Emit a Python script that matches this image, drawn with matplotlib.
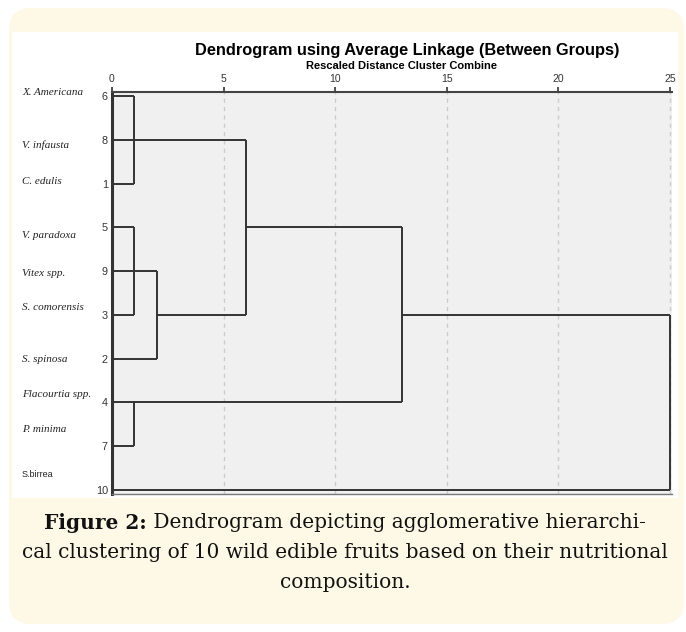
import math
import matplotlib
matplotlib.use('Agg')
from matplotlib import pyplot as plt
from matplotlib.patches import FancyBboxPatch, Rectangle

# cases in the order SPSS lists them
case_ids = [6, 8, 1, 5, 9, 3, 2, 4, 7, 10]
fruit_names = ['X. Americana', 'V. infausta', 'C. edulis', 'V. paradoxa', 'Vitex spp.',
               'S. comorensis', 'S. spinosa', 'Flacourtia spp.', 'P. minima', 'S.birrea']

# agglomeration steps: members (case ids or earlier cluster names) and rescaled distance
merge_names = ['A', 'B', 'C', 'D', 'E', 'F', 'G']
merge_members = [[6, 8, 1], [5, 9, 3], [4, 7], ['B', 2], ['A', 'D'], ['E', 'C'], ['F', 10]]
merge_dist = [1, 1, 1, 2, 6, 13, 25]

x_ticks = [0, 5, 10, 15, 20, 25]

# small nudges of the name labels (in rows), as the source image places them
label_shift = [-0.09, 0.11, -0.05, 0.18, 0.05, -0.16, 0.02, -0.18, -0.37, -0.34]

W, H = 686, 632
fig = plt.figure(figsize=(W / 100, H / 100), dpi=100)
fig.patch.set_facecolor('white')

# cream rounded card and white panel (behind the axes)
card = FancyBboxPatch((9 / 100, (H - 624) / 100), 675 / 100, 616 / 100,
                      boxstyle='round,pad=0,rounding_size=0.22',
                      transform=fig.dpi_scale_trans, facecolor='#fef9e6', edgecolor='none',
                      zorder=-10)
fig.patches.append(card)
panel = Rectangle((12 / 100, (H - 498) / 100), 666 / 100, 466 / 100,
                  transform=fig.dpi_scale_trans, facecolor='white', edgecolor='none',
                  zorder=-9)
fig.patches.append(panel)

ax = fig.add_axes([112 / W, 1 - 494 / H, 560 / W, 402 / H])
ax.set_facecolor('#f0f0f0')
ax.set_xlim(0, 25.1)
ax.set_ylim(9.1, -0.1)

# draw the dendrogram SPSS style
line_kw = dict(color='#333333', lw=1.4, solid_capstyle='butt')
nodes = {cid: (i, 0) for i, cid in enumerate(case_ids)}
for name, members, d in zip(merge_names, merge_members, merge_dist):
    reps = []
    for m in members:
        rep, x0 = nodes[m]
        ax.plot([x0, d], [rep, rep], **line_kw)
        reps.append(rep)
    ax.plot([d, d], [min(reps), max(reps)], **line_kw)
    nodes[name] = (math.floor((min(reps) + max(reps)) / 2), d)

ax.grid(axis='x', linestyle=(0, (3, 3)), color='#cccccc', lw=1)
ax.set_axisbelow(True)

ax.xaxis.tick_top()
ax.set_xticks(x_ticks)
ax.set_xticklabels([str(t) for t in x_ticks], fontsize=7.5, color='#333333',
                   fontfamily='Liberation Sans')
ax.tick_params(axis='x', direction='out', length=3.5, width=1.2, color='#333333', pad=2)

ax.set_yticks(range(len(case_ids)))
ax.set_yticklabels([str(c) for c in case_ids], fontsize=7.8, color='#333333',
                   fontfamily='Liberation Sans')
ax.tick_params(axis='y', length=0, pad=3)

ax.spines['right'].set_visible(False)
ax.spines['top'].set_linewidth(1.5)
ax.spines['top'].set_color('#444444')
ax.spines['left'].set_linewidth(2.2)
ax.spines['left'].set_color('#333333')
ax.spines['bottom'].set_linewidth(1)
ax.spines['bottom'].set_color('#777777')

# fruit names to the left of the axis
for i, nm in enumerate(fruit_names):
    if nm == 'S.birrea':
        ax.text(-90 / 22.3, i + label_shift[i], nm, fontsize=6.5, fontfamily='Liberation Sans',
                ha='left', va='center', color='#222222', clip_on=False)
    else:
        ax.text(-90 / 22.3, i + label_shift[i], nm, fontsize=8, fontfamily='Liberation Serif',
                style='italic', ha='left', va='center', color='#222222', clip_on=False)

fig.text(407 / W, 1 - 50 / H, 'Dendrogram using Average Linkage (Between Groups)',
         fontsize=11.8, fontweight='bold', fontfamily='Liberation Sans', ha='center', va='center')
fig.text(401 / W, 1 - 66 / H, 'Rescaled Distance Cluster Combine',
         fontsize=8, fontweight='bold', fontfamily='Liberation Sans', ha='center', va='center')

# caption, centred, first words in bold
cap_kw = dict(fontsize=14.5, fontfamily='DejaVu Serif', color='#111111', va='center')
renderer = fig.canvas.get_renderer()
t1 = fig.text(0, 0, 'Figure 2:', fontweight='bold', transform=None, **cap_kw)
t2 = fig.text(0, 0, ' Dendrogram depicting agglomerative hierarchi-', transform=None, **cap_kw)
w1 = t1.get_window_extent(renderer).width
w2 = t2.get_window_extent(renderer).width
x_start = 345 - (w1 + w2) / 2
t1.set_position((x_start, H - 523))
t2.set_position((x_start + w1, H - 523))
fig.text(345 / W, 1 - 552 / H, 'cal clustering of 10 wild edible fruits based on their nutritional',
         ha='center', **cap_kw)
fig.text(345 / W, 1 - 582 / H, 'composition.', ha='center', **cap_kw)

fig.savefig('out.png', dpi=100)
